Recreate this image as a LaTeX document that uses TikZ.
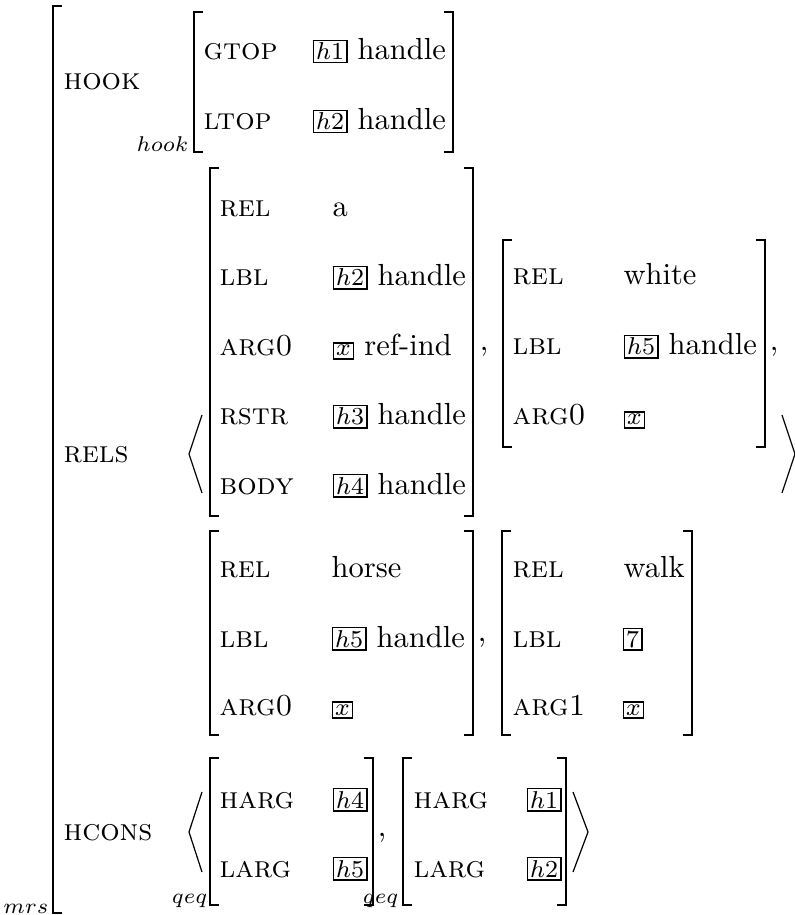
\documentclass[tikz,border=0pt]{standalone}
\begin{document}
\setlength{\fboxsep}{0.6pt}
\setlength{\fboxrule}{0.55pt}
\newcommand{\avmtag}[1]{\fbox{\footnotesize$#1$}}
% left and right square brackets: x, top, bottom
\newcommand{\avmL}[3]{\draw[brk] (#1+9,#2) -- (#1,#2) -- (#1,#3) -- (#1+9,#3);}
\newcommand{\avmR}[3]{\draw[brk] (#1-9,#2) -- (#1,#2) -- (#1,#3) -- (#1-9,#3);}
\begin{tikzpicture}[x=0.3279pt, y=-0.3279pt,
  attr/.style={anchor=base west, inner sep=0pt, font=\scshape},
  val/.style={anchor=base west, inner sep=0pt},
  typ/.style={anchor=base east, inner sep=0pt, font=\scriptsize},
  punct/.style={anchor=base, inner sep=0pt},
  brk/.style={line width=0.5pt},
  ang/.style={line width=0.4pt, line join=miter}]
\useasboundingbox (0,0) rectangle (795,915);

% outer mrs structure
\avmL{53}{6}{913}
\node[typ] (tmrs) at (49,913) {$mrs$};

% HOOK
\node[attr] (ahook) at (63,90) {hook};
\avmL{194}{12}{152}
\avmR{453}{12}{152}
\node[typ] (thook) at (189,152) {$hook$};
\node[attr] (agtop) at (203,60) {gtop};
\node[val] (vgtop) at (312,60) {\avmtag{h1} handle};
\node[attr] (altop) at (203,130) {ltop};
\node[val] (vltop) at (312,130) {\avmtag{h2} handle};

% RELS
\node[attr] (arels) at (63,462) {rels};
\draw[ang] (202,415) -- (189,454) -- (202,493);
\draw[ang] (782,415) -- (795,454) -- (782,493);

% relation "a"
\avmL{210}{168}{516}
\avmR{473}{168}{516}
\node[attr] (ra1) at (219,217) {rel};
\node[val]  (ra1v) at (332,217) {a};
\node[attr] (ra2) at (219,286) {lbl};
\node[val]  (ra2v) at (332,286) {\avmtag{h2} handle};
\node[attr] (ra3) at (219,356) {arg0};
\node[val]  (ra3v) at (332,356) {\avmtag{x} ref-ind};
\node[attr] (ra4) at (219,425) {rstr};
\node[val]  (ra4v) at (332,425) {\avmtag{h3} handle};
\node[attr] (ra5) at (219,494) {body};
\node[val]  (ra5v) at (332,494) {\avmtag{h4} handle};
\node[punct] (c1) at (484,351) {,};

% relation "white"
\avmL{503}{240}{447}
\avmR{765}{240}{447}
\node[attr] (rw1) at (512,285) {rel};
\node[val]  (rw1v) at (623,285) {white};
\node[attr] (rw2) at (512,355) {lbl};
\node[val]  (rw2v) at (623,355) {\avmtag{h5} handle};
\node[attr] (rw3) at (512,425) {arg0};
\node[val]  (rw3v) at (623,425) {\avmtag{x}};
\node[punct] (c2) at (774,351) {,};

% relation "horse"
\avmL{210}{531}{735}
\avmR{473}{531}{735}
\node[attr] (rh1) at (219,577) {rel};
\node[val]  (rh1v) at (331,577) {horse};
\node[attr] (rh2) at (219,647) {lbl};
\node[val]  (rh2v) at (331,647) {\avmtag{h5} handle};
\node[attr] (rh3) at (219,715) {arg0};
\node[val]  (rh3v) at (331,715) {\avmtag{x}};
\node[punct] (c3) at (482,641) {,};

% relation "walk"
\avmL{502}{531}{735}
\avmR{692}{531}{735}
\node[attr] (rk1) at (512,577) {rel};
\node[val]  (rk1v) at (623,577) {walk};
\node[attr] (rk2) at (512,647) {lbl};
\node[val]  (rk2v) at (622,647) {\avmtag{7}};
\node[attr] (rk3) at (512,715) {arg1};
\node[val]  (rk3v) at (622,715) {\avmtag{x}};

% HCONS
\node[attr] (ahcons) at (63,840) {hcons};
\draw[ang] (202,792) -- (189,832) -- (202,872);
\draw[ang] (573,792) -- (588,832) -- (573,872);

\avmL{210}{758}{905}
\avmR{373}{758}{905}
\node[typ] (tq1) at (208,903) {$qeq$};
\node[attr] (q1a) at (219,808) {harg};
\node[val]  (q1av) at (332,808) {\avmtag{h4}};
\node[attr] (q1b) at (219,877) {larg};
\node[val]  (q1bv) at (332,877) {\avmtag{h5}};
\node[punct] (c4) at (382,836) {,};

\avmL{403}{758}{905}
\avmR{566}{758}{905}
\node[typ] (tq2) at (399,903) {$qeq$};
\node[attr] (q2a) at (413,808) {harg};
\node[val]  (q2av) at (526,808) {\avmtag{h1}};
\node[attr] (q2b) at (413,877) {larg};
\node[val]  (q2bv) at (526,877) {\avmtag{h2}};
\end{tikzpicture}
\end{document}
